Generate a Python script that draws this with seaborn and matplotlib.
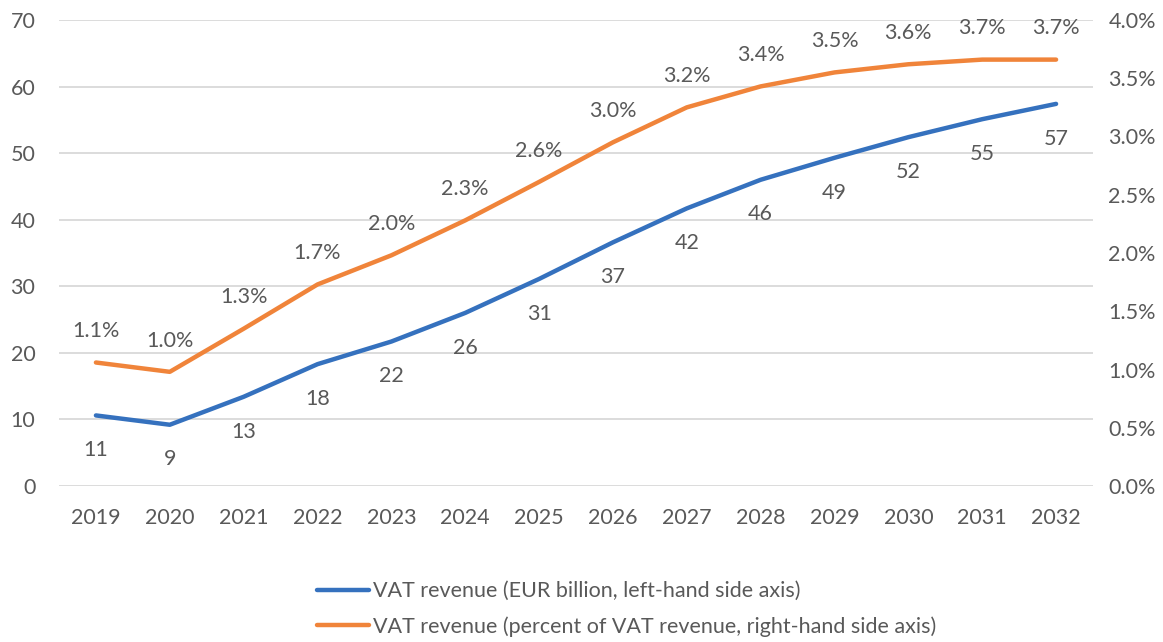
import matplotlib
matplotlib.use("Agg")
import matplotlib.pyplot as plt
from matplotlib.ticker import FuncFormatter, MultipleLocator
import seaborn as sns
import pandas as pd

# Annual series
years = [2019, 2020, 2021, 2022, 2023, 2024, 2025, 2026, 2027, 2028, 2029, 2030, 2031, 2032]
vat_eur_bn = [10.6, 9.2, 13.4, 18.3, 21.7, 26.0, 31.1, 36.6, 41.7, 46.0, 49.3, 52.4, 55.1, 57.4]
vat_pct = [1.06, 0.98, 1.35, 1.73, 1.98, 2.28, 2.61, 2.95, 3.25, 3.43, 3.55, 3.62, 3.66, 3.66]
eur_labels = ["11", "9", "13", "18", "22", "26", "31", "37", "42", "46", "49", "52", "55", "57"]
pct_labels = ["1.1%", "1.0%", "1.3%", "1.7%", "2.0%", "2.3%", "2.6%", "3.0%", "3.2%",
              "3.4%", "3.5%", "3.6%", "3.7%", "3.7%"]
name_eur = "VAT revenue (EUR billion, left-hand side axis)"
name_pct = "VAT revenue (percent of VAT revenue, right-hand side axis)"

BLUE = "#3571BE"
ORANGE = "#F0843A"
TEXT = "#595959"
GRID = "#D9D9D9"

sns.set_theme(style="white")
plt.rcParams["font.family"] = ["Lato", "DejaVu Sans"]
plt.rcParams["text.color"] = TEXT

df = pd.DataFrame({"year": years, "eur": vat_eur_bn, "pct": vat_pct})

fig = plt.figure(figsize=(11.63, 6.42), dpi=100)
ax = fig.add_axes([59 / 1163, 1 - 486 / 642, (1093 - 59) / 1163, (486 - 20) / 642])
ax2 = ax.twinx()

sns.lineplot(data=df, x="year", y="eur", ax=ax, color=BLUE, linewidth=3.2,
             solid_capstyle="round", label=name_eur, legend=False)
sns.lineplot(data=df, x="year", y="pct", ax=ax2, color=ORANGE, linewidth=3.2,
             solid_capstyle="round", label=name_pct, legend=False)

ax.set_xlim(2018.5, 2032.5)
ax.set_ylim(0, 70)
ax2.set_ylim(0, 4.0)
ax.yaxis.set_major_locator(MultipleLocator(10))
ax2.yaxis.set_major_locator(MultipleLocator(0.5))
ax2.yaxis.set_major_formatter(FuncFormatter(lambda v, p: f"{v:.1f}%"))
ax.set_xticks(years)
ax.set_xticklabels([str(y) for y in years])

for a in (ax, ax2):
    for s in a.spines.values():
        s.set_visible(False)
    a.set_xlabel("")
    a.set_ylabel("")
    a.tick_params(length=0, labelsize=15.5, colors=TEXT)
ax.tick_params(axis="y", pad=17)
ax.tick_params(axis="x", pad=16)
ax2.tick_params(axis="y", pad=11)

ax.grid(axis="y", color=GRID, linewidth=1.3)
ax.grid(axis="x", visible=False)
ax2.grid(False)

# Value labels: amounts below the blue line, shares above the orange line
for x, v, t in zip(years, vat_eur_bn, eur_labels):
    ax.annotate(t, (x, v), xytext=(0, -25), textcoords="offset points",
                ha="center", va="center", fontsize=15.5, color=TEXT)
for x, v, t in zip(years, vat_pct, pct_labels):
    ax2.annotate(t, (x, v), xytext=(0, 22.5), textcoords="offset points",
                 ha="center", va="center", fontsize=15.5, color=TEXT)

handles = ax.get_lines()[:1] + ax2.get_lines()[:1]
fig.legend(handles, [name_eur, name_pct], loc="center left",
           bbox_to_anchor=(298 / 1163, 1 - 609 / 642), frameon=False,
           fontsize=15.5, handlelength=2.4, handletextpad=0.2, labelspacing=0.7,
           labelcolor=TEXT)

fig.savefig("out.png", dpi=100)
